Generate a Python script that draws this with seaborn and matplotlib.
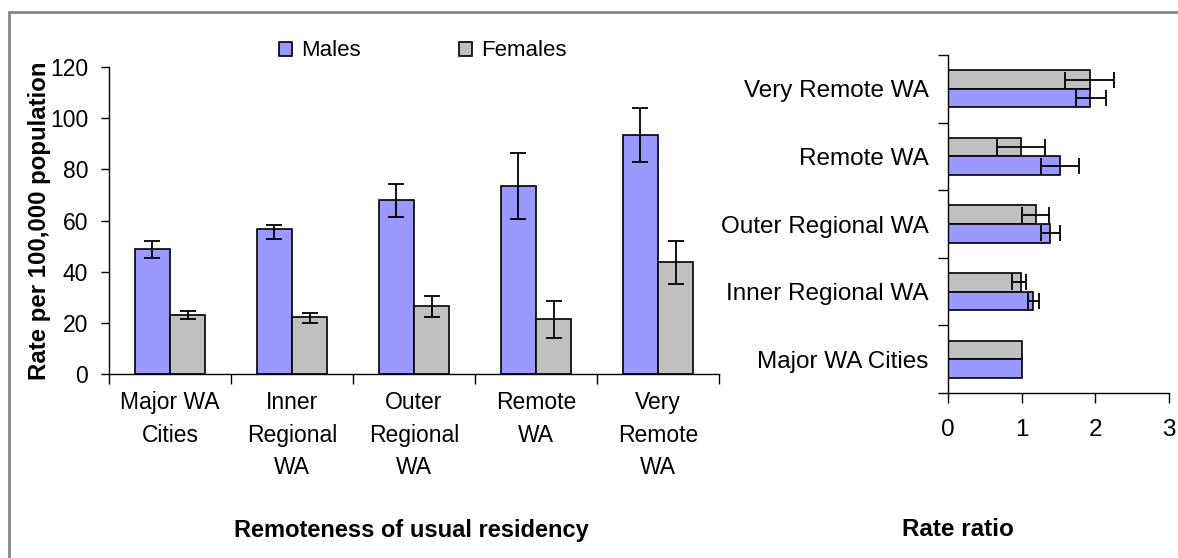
import numpy as np
import pandas as pd
import matplotlib
matplotlib.use("Agg")
import matplotlib.pyplot as plt
from matplotlib.lines import Line2D
from matplotlib.ticker import FixedLocator
import seaborn as sns

# ---------------- data ----------------
categories = ["Major WA Cities", "Inner Regional WA", "Outer Regional WA", "Remote WA", "Very Remote WA"]
cat_labels = ["Major WA\nCities", "Inner\nRegional\nWA", "Outer\nRegional\nWA", "Remote\nWA", "Very\nRemote\nWA"]

male_rate = [48.8, 56.7, 68.0, 73.6, 93.5]
male_rate_lo = [45.5, 52.8, 61.4, 60.6, 83.0]
male_rate_hi = [52.1, 58.3, 74.4, 86.3, 104.0]

female_rate = [23.1, 22.4, 26.4, 21.6, 43.8]
female_rate_lo = [21.6, 20.0, 22.4, 14.2, 35.1]
female_rate_hi = [24.8, 23.9, 30.6, 28.7, 52.1]

male_rr = [1.00, 1.16, 1.39, 1.52, 1.93]
male_rr_lo = [np.nan, 1.08, 1.26, 1.26, 1.74]
male_rr_hi = [np.nan, 1.24, 1.52, 1.78, 2.15]

female_rr = [1.00, 0.99, 1.19, 0.99, 1.93]
female_rr_lo = [np.nan, 0.87, 1.00, 0.66, 1.59]
female_rr_hi = [np.nan, 1.06, 1.37, 1.32, 2.25]

rate_ticks = [0, 20, 40, 60, 80, 100, 120]
rr_ticks = [0, 1, 2, 3]

sexes = ["Males", "Females"]
palette = {"Males": "#9999FF", "Females": "#C0C0C0"}

# ---------------- tables ----------------
rate_df = pd.DataFrame({
    "area": categories * 2,
    "sex": ["Males"] * 5 + ["Females"] * 5,
    "rate": male_rate + female_rate,
    "lo": male_rate_lo + female_rate_lo,
    "hi": male_rate_hi + female_rate_hi,
})
rr_df = pd.DataFrame({
    "area": categories * 2,
    "sex": ["Males"] * 5 + ["Females"] * 5,
    "rr": male_rr + female_rr,
    "lo": male_rr_lo + female_rr_lo,
    "hi": male_rr_hi + female_rr_hi,
})

# ---------------- style ----------------
sns.set_theme(style="ticks")
plt.rcParams["font.family"] = ["Liberation Sans", "DejaVu Sans"]
plt.rcParams["axes.linewidth"] = 1.0
plt.rcParams["axes.edgecolor"] = "black"
plt.rcParams["text.color"] = "black"
plt.rcParams["axes.labelcolor"] = "black"
plt.rcParams["xtick.color"] = "black"
plt.rcParams["ytick.color"] = "black"
plt.rcParams["xtick.labelcolor"] = "black"
plt.rcParams["ytick.labelcolor"] = "black"

W, H = 1178, 558
fig = plt.figure(figsize=(W / 100, H / 100), dpi=100, facecolor="white")

def fx(px):
    return px / W

def fy(py):
    return 1 - py / H

# ---------------- left panel ----------------
axL = fig.add_axes([fx(109), fy(374), fx(719) - fx(109), fy(67) - fy(374)])
sns.barplot(data=rate_df, x="area", y="rate", hue="sex", order=categories,
            hue_order=sexes, palette=palette, saturation=1, width=0.58, edgecolor="black",
            linewidth=1.2, errorbar=None, ax=axL, legend=True)

for cont, sex in zip(axL.containers, sexes):
    sub = rate_df[rate_df["sex"] == sex].set_index("area").loc[categories]
    xs = [b.get_x() + b.get_width() / 2 for b in cont]
    v = sub["rate"].values
    axL.errorbar(xs, v, yerr=[v - sub["lo"].values, sub["hi"].values - v],
                 fmt="none", ecolor="black", elinewidth=1.3, capsize=6, capthick=1.3, zorder=5)

axL.set_ylim(0, 120)
axL.set_xlim(-0.5, 4.5)
axL.set_yticks(rate_ticks)
axL.set_xticks(range(len(categories)))
axL.set_xticklabels(cat_labels)
axL.xaxis.set_minor_locator(FixedLocator(np.arange(-0.5, 5.0, 1.0)))
axL.tick_params(axis="x", which="major", length=0, pad=12, labelsize=16.5)
axL.tick_params(axis="x", which="minor", length=7, width=1, direction="out", color="black")
axL.tick_params(axis="y", length=6, width=1, direction="out", pad=9, labelsize=16.5, color="black")
for lbl in axL.get_xticklabels():
    lbl.set_linespacing(1.55)
sns.despine(ax=axL)
axL.set_ylabel("Rate per 100,000 population", fontsize=17.3, fontweight="bold", va="center")
axL.yaxis.set_label_coords((40 - 109) / 610, 0.5)
axL.set_xlabel("Remoteness of usual residency", fontsize=17, fontweight="bold", va="center")
axL.xaxis.set_label_coords((411 - 109) / 610, (374 - 530) / 307)

handles, labels = axL.get_legend_handles_labels()
axL.legend(handles, labels, ncol=2, frameon=False, fontsize=16,
           loc="center left", bbox_to_anchor=(fx(279), fy(51)), bbox_transform=fig.transFigure,
           handlelength=0.6, handleheight=0.6, handletextpad=0.4, columnspacing=4.4,
           borderpad=0, borderaxespad=0)

# ---------------- right panel ----------------
rr_order = categories[::-1]
axR = fig.add_axes([fx(948), fy(393), fx(1169) - fx(948), fy(55) - fy(393)])
sns.barplot(data=rr_df, x="rr", y="area", hue="sex", order=rr_order,
            hue_order=["Females", "Males"], palette=palette, saturation=1, width=0.55, orient="h",
            edgecolor="black", linewidth=1.2, errorbar=None, ax=axR, legend=False)

for cont, sex in zip(axR.containers, ["Females", "Males"]):
    sub = rr_df[rr_df["sex"] == sex].set_index("area").loc[rr_order]
    ys = [b.get_y() + b.get_height() / 2 for b in cont]
    v = sub["rr"].values
    axR.errorbar(v, ys, xerr=[v - sub["lo"].values, sub["hi"].values - v],
                 fmt="none", ecolor="black", elinewidth=1.3, capsize=6, capthick=1.3, zorder=5)

axR.set_xlim(0, 3)
axR.set_ylim(4.5, -0.5)
axR.set_xticks(rr_ticks)
axR.yaxis.set_minor_locator(FixedLocator(np.arange(-0.5, 5.0, 1.0)))
axR.tick_params(axis="y", which="major", length=0, pad=14, labelsize=17.5)
axR.tick_params(axis="y", which="minor", length=7, width=1, direction="out", color="black")
axR.tick_params(axis="x", length=7, width=1, direction="out", pad=12, labelsize=17.5, color="black")
sns.despine(ax=axR)
axR.set_ylabel("")
axR.set_xlabel("Rate ratio", fontsize=17.5, fontweight="bold", va="center")
axR.xaxis.set_label_coords((958 - 948) / 221, (393 - 530) / 338)

# ---------------- outer frame (top and left edges visible) ----------------
frame_kw = dict(color="#868686", linewidth=2.0, transform=fig.transFigure)
fig.add_artist(Line2D([fx(9), 1.0], [fy(12), fy(12)], **frame_kw))
fig.add_artist(Line2D([fx(9), fx(9)], [fy(12), 0.0], **frame_kw))

fig.savefig("out.png", dpi=100, facecolor="white")
